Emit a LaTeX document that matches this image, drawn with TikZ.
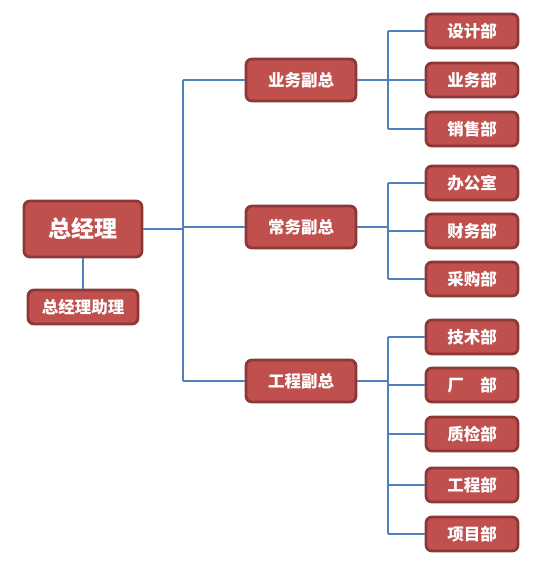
\documentclass[tikz,border=0pt]{standalone}
\usepackage{fontspec}
\newfontfamily\cjk{Noto Sans CJK SC}
\definecolor{boxfill}{HTML}{C0504D}
\definecolor{boxline}{HTML}{8C3836}
\definecolor{conn}{HTML}{4F81BD}
\tikzset{
  box/.style={draw=boxline, line width=2.8pt, fill=boxfill, rounded corners=6pt,
    text=white, font=\cjk\bfseries\fontsize{16.5}{16.5}\selectfont, inner sep=0pt, anchor=center},
  top/.style={box, minimum width=118pt, minimum height=56pt, font=\cjk\bfseries\fontsize{23}{23}\selectfont},
  vp/.style={box, minimum width=110pt, minimum height=42pt},
  dept/.style={box, minimum width=92pt, minimum height=34pt},
  conn/.style={draw=conn, line width=2.8pt}
}
\begin{document}
\begin{tikzpicture}[x=1pt,y=-1pt]
\useasboundingbox (0,0) rectangle (552,566);
\node[top] (gm) at (83,229) {总经理};
\node[box, minimum width=110pt, minimum height=34pt] (asst) at (83,307) {总经理助理};
\node[vp] (v1) at (301,80) {业务副总};
\node[vp] (v2) at (301,227) {常务副总};
\node[vp] (v3) at (301,381) {工程副总};
\node[dept] (d1) at (472,31) {设计部};
\node[dept] (d2) at (472,80) {业务部};
\node[dept] (d3) at (472,129) {销售部};
\node[dept] (d4) at (472,183) {办公室};
\node[dept] (d5) at (472,231) {财务部};
\node[dept] (d6) at (472,279) {采购部};
\node[dept] (d7) at (472,337) {技术部};
\node[dept] (d8) at (472,385) {厂\hspace{1em}部};
\node[dept] (d9) at (472,434) {质检部};
\node[dept] (d10) at (472,485) {工程部};
\node[dept] (d11) at (472,534) {项目部};
\coordinate (t) at (183,229);
\coordinate (b1) at (388,80);
\coordinate (b2) at (388,227);
\coordinate (b3) at (388,381);
\draw[conn] (gm.south) -- (asst.north);
\draw[conn] (gm.east) -- (t);
\draw[conn] (t |- v1) -- (t |- v3);
\draw[conn] (t |- v1) -- (v1.west);
\draw[conn] (t |- v2) -- (v2.west);
\draw[conn] (t |- v3) -- (v3.west);
\draw[conn] (v1.east) -- (b1);
\draw[conn] (v2.east) -- (b2);
\draw[conn] (v3.east) -- (b3);
\draw[conn] (b1 |- d1) -- (b1 |- d3);
\draw[conn] (b2 |- d4) -- (b2 |- d6);
\draw[conn] (b3 |- d7) -- (b3 |- d11);
\foreach \d/\b in {d1/b1,d2/b1,d3/b1,d4/b2,d5/b2,d6/b2,d7/b3,d8/b3,d9/b3,d10/b3,d11/b3}
  \draw[conn] (\b |- \d) -- (\d.west);
\end{tikzpicture}
\end{document}
